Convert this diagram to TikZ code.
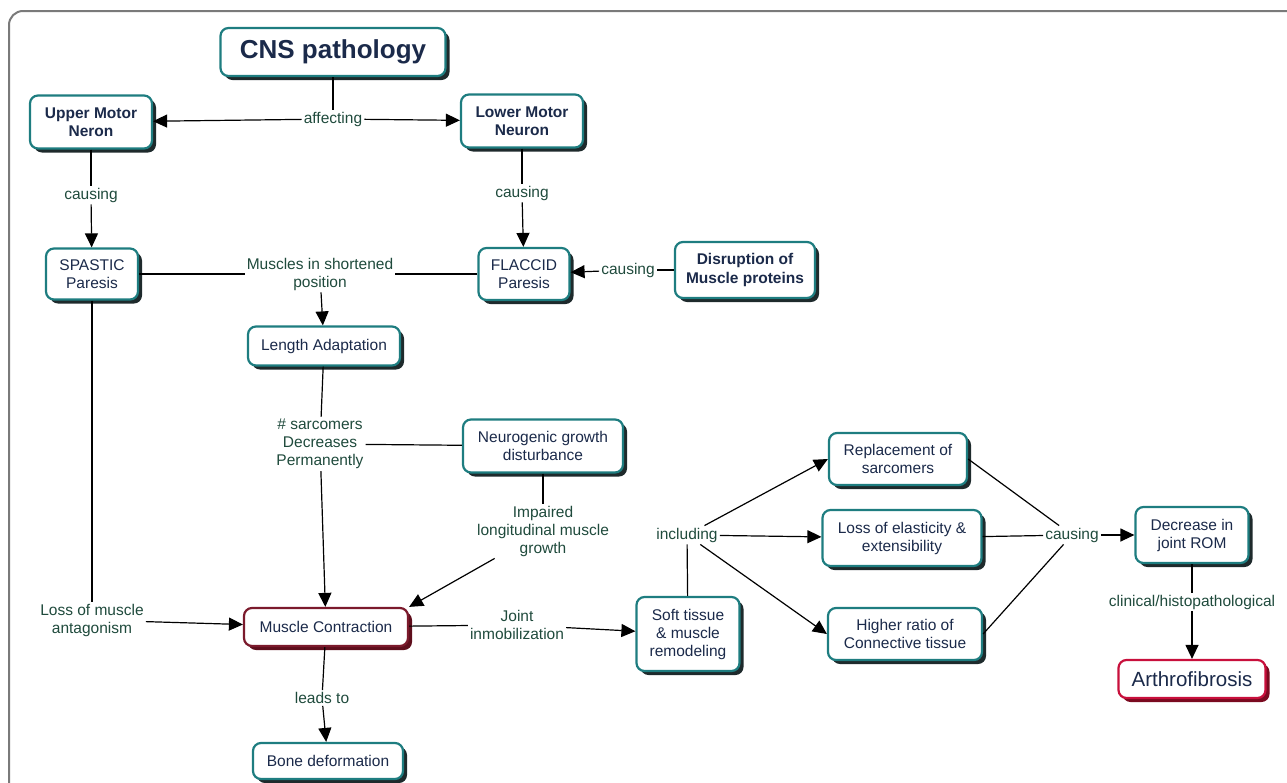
\documentclass[tikz,border=0pt]{standalone}
\usepackage{fontspec}
\setmainfont{Liberation Sans}
\usepackage{xcolor}
\usepackage{tikz}
\usetikzlibrary{arrows.meta,shadows}
\definecolor{tealb}{HTML}{1E7D80}
\definecolor{shadowdk}{HTML}{1E2A2C}
\definecolor{maroonb}{HTML}{7B1A2C}
\definecolor{maroonsh}{HTML}{5E0E1C}
\definecolor{crimsonb}{HTML}{C8103C}
\definecolor{crimsonsh}{HTML}{7A0A20}
\definecolor{boxtxt}{HTML}{1B2A4A}
\definecolor{lbltxt}{HTML}{1F4A3C}
\definecolor{framegray}{HTML}{7A7A7A}
\newcommand\mapfont{\fontsize{15.5}{18}\selectfont}
\newcommand\mapboldfont{\fontsize{15.5}{18.5}\selectfont\bfseries}

\tikzset{
  box/.style={draw=tealb, line width=2.2pt, rounded corners=8pt, fill=white,
    text=boxtxt, align=center, font=\mapfont, inner sep=2pt,
    drop shadow={shadow xshift=4pt, shadow yshift=-4pt, fill=#1, opacity=1}},
  box/.default=shadowdk,
  lbl/.style={text=lbltxt, align=center, font=\mapfont, inner sep=2pt},
  link/.style={line width=1.2pt},
  arr/.style={link, -{Triangle[length=14pt,width=13pt]}}
}

\begin{document}
\begin{tikzpicture}[x=1pt, y=-1pt]
  \useasboundingbox (0,0) rectangle (1287,782);
  % frame
  \draw[framegray, line width=2pt, rounded corners=14pt] (9,11) rectangle (1320,820);

  % Concepts
  \node[box, minimum width=225, minimum height=48, font=\fontsize{26}{30}\selectfont\bfseries] (cns) at (333,52) {CNS pathology};
  \node[box, minimum width=122, minimum height=53, font=\mapboldfont] (umn) at (91,122) {Upper Motor\\Neron};
  \node[box, minimum width=122, minimum height=53, font=\mapboldfont] (lmn) at (522,121) {Lower Motor\\Neuron};
  \node[box, minimum width=92, minimum height=51] (spa) at (92,274) {SPASTIC\\Paresis};
  \node[box, minimum width=91, minimum height=52] (fla) at (524,274) {FLACCID\\Paresis};
  \node[box, minimum width=140, minimum height=56, font=\mapboldfont] (dis) at (745,270) {Disruption of\\Muscle proteins};
  \node[box, minimum width=152, minimum height=39] (len) at (324,346) {Length Adaptation};
  \node[box, minimum width=160, minimum height=53] (neu) at (543,446) {Neurogenic growth\\disturbance};
  \node[box=maroonsh, draw=maroonb, minimum width=164, minimum height=38] (mc) at (326,627) {Muscle Contraction};
  \node[box, minimum width=103, minimum height=74] (soft) at (688,634) {Soft tissue\\\& muscle\\remodeling};
  \node[box, minimum width=138, minimum height=52] (rep) at (898,459) {Replacement of\\sarcomers};
  \node[box, minimum width=159, minimum height=56] (loss) at (902,538) {Loss of elasticity \&\\extensibility};
  \node[box, minimum width=154, minimum height=52] (high) at (905,634) {Higher ratio of\\Connective tissue};
  \node[box, minimum width=113, minimum height=56] (rom) at (1192,535) {Decrease in\\joint ROM};
  \node[box=crimsonsh, draw=crimsonb, minimum width=147, minimum height=38, font=\fontsize{20.5}{24}\selectfont] (arth) at (1192,679) {Arthrofibrosis};
  \node[box, minimum width=150, minimum height=36] (bone) at (328,761) {Bone deformation};

  % Link labels
  \node[lbl] (aff) at (333,119) {affecting};
  \node[lbl] (c1) at (91,195) {causing};
  \node[lbl] (c2) at (522,193) {causing};
  \node[lbl] (c3) at (628,270) {causing};
  \node[lbl] (short) at (320,274) {Muscles in shortened\\position};
  \node[lbl] (sarc) at (320,444) {\# sarcomers\\Decreases\\Permanently};
  \node[lbl] (imp) at (543,531) {Impaired\\longitudinal muscle\\growth};
  \node[lbl] (antag) at (92,620) {Loss of muscle\\antagonism};
  \node[lbl] (joint) at (517,625) {Joint\\inmobilization};
  \node[lbl] (incl) at (687,535) {including};
  \node[lbl] (c4) at (1072,535) {causing};
  \node[lbl] (clin) at (1192,602) {clinical/histopathological};
  \node[lbl] (leads) at (322,698) {leads to};

  % Links
  \draw[link] (cns) -- (aff);
  \draw[arr] (aff) -- (umn);
  \draw[arr] (aff) -- (lmn);
  \draw[link] (umn) -- (c1);
  \draw[arr] (c1) -- (spa);
  \draw[link] (lmn) -- (c2);
  \draw[arr] (c2) -- (fla);
  \draw[link] (dis) -- (c3);
  \draw[arr] (c3) -- (fla);
  \draw[link] (spa) -- (short);
  \draw[link] (fla) -- (short);
  \draw[arr] (short) -- (len);
  \draw[link] (len) -- (sarc);
  \draw[link] (neu) -- (sarc);
  \draw[arr] (sarc) -- (mc);
  \draw[link] (neu) -- (imp);
  \draw[arr] (imp) -- (mc.north east);
  \draw[link] (spa) -- (antag);
  \draw[arr] (antag) -- (mc);
  \draw[link] (mc) -- (joint);
  \draw[arr] (joint) -- (soft);
  \draw[link] (soft) -- (incl);
  \draw[arr] (incl) -- (rep.west);
  \draw[arr] (incl) -- (loss);
  \draw[arr] (incl) -- (high.west);
  \draw[link] (rep.east) -- (c4);
  \draw[link] (loss) -- (c4);
  \draw[link] (high.east) -- (c4);
  \draw[arr] (c4) -- (rom);
  \draw[link] (rom) -- (clin);
  \draw[arr] (clin) -- (arth);
  \draw[link] (mc) -- (leads);
  \draw[arr] (leads) -- (bone);
\end{tikzpicture}
\end{document}
